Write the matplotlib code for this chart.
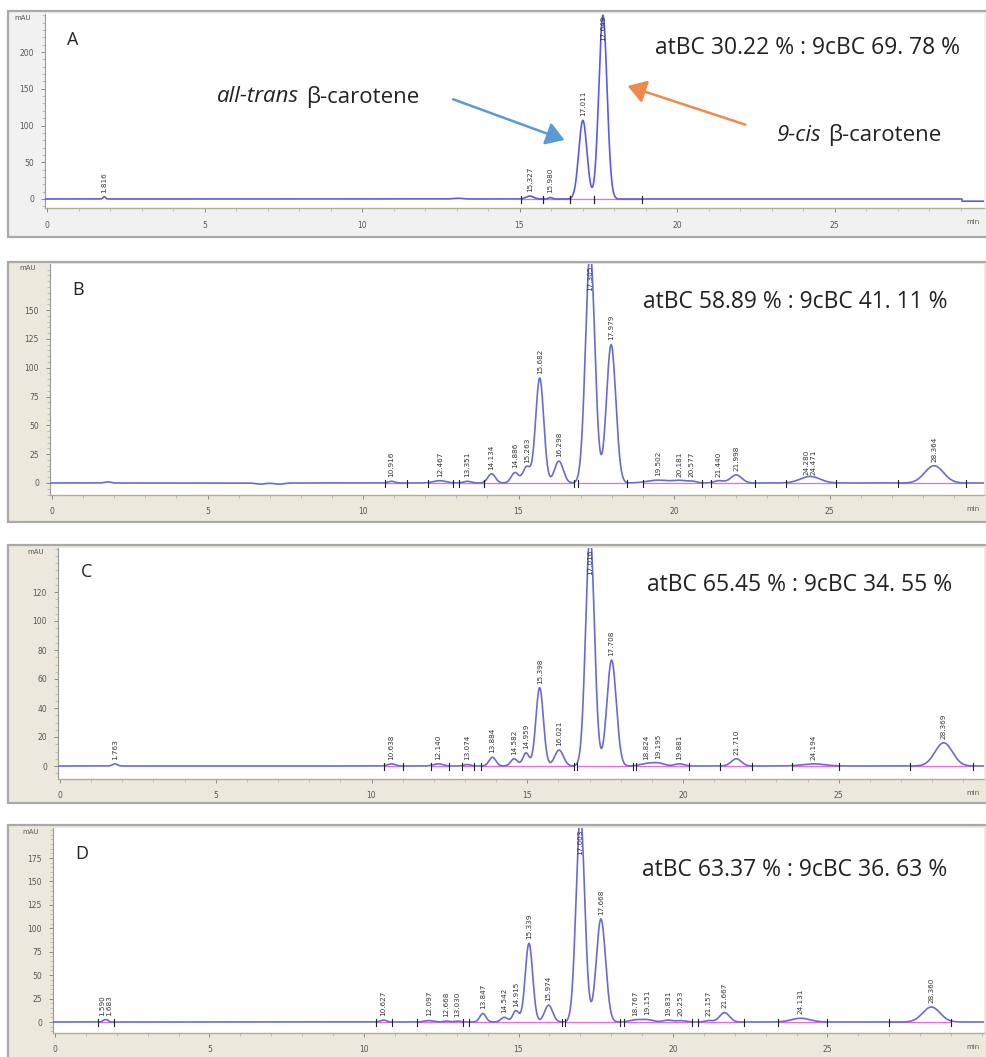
import numpy as np
import matplotlib.pyplot as plt
from matplotlib.patches import Rectangle, FancyArrowPatch
from matplotlib.ticker import MultipleLocator

W, H = 986, 1057

# ---------------- data ----------------
# retention time (min), peak height (mAU), peak width (sigma, min), printed label
a_rt = [1.816, 13.05, 15.327, 15.980, 17.011, 17.649]
a_height = [3, 1, 4, 2, 107, 250]
a_sigma = [0.04, 0.15, 0.12, 0.06, 0.13, 0.13]
a_label = ["1.816", "", "15.327", "15.980", "17.011", "17.649"]
a_windows = [(15.05, 15.75), (15.75, 16.6), (16.6, 17.35), (17.35, 18.9)]
a_ratio = "atBC 30.22 % : 9cBC 69. 78 %"

b_rt = [1.8, 6.7, 7.3, 10.916, 12.467, 13.351, 14.134, 14.886, 15.263, 15.682,
        16.298, 17.305, 17.979, 19.502, 20.181, 20.577, 21.440, 21.998, 24.280,
        24.471, 28.364]
b_height = [1, -1, -1, 1.5, 2, 1.5, 8, 9, 14, 91, 19, 200, 120, 2.5, 2, 1.5, 2,
            7, 3, 3, 15]
b_sigma = [0.1, 0.15, 0.15, 0.1, 0.2, 0.12, 0.12, 0.12, 0.12, 0.13, 0.14, 0.15,
           0.15, 0.35, 0.2, 0.15, 0.15, 0.18, 0.3, 0.3, 0.3]
b_label = ["", "", "", "10.916", "12.467", "13.351", "14.134", "14.886", "15.263",
           "15.682", "16.298", "17.305", "17.979", "19.502", "20.181", "20.577",
           "21.440", "21.998", "24.280", "24.471", "28.364"]
b_windows = [(10.7, 11.4), (12.1, 12.9), (13.1, 13.9), (13.9, 16.8), (16.9, 18.5),
             (19.0, 20.9), (21.2, 22.6), (23.6, 25.2), (27.2, 29.4)]
b_ratio = "atBC 58.89 % : 9cBC 41. 11 %"

c_rt = [1.763, 10.638, 12.140, 13.074, 13.884, 14.582, 14.959, 15.398, 16.021,
        17.016, 17.708, 18.824, 19.195, 19.881, 21.710, 24.194, 28.369]
c_height = [1.5, 1.5, 1.5, 1, 6, 5, 9, 54, 11, 160, 73, 1.5, 2, 1.5, 5, 1.5, 16]
c_sigma = [0.08, 0.12, 0.15, 0.1, 0.11, 0.11, 0.1, 0.12, 0.14, 0.14, 0.15, 0.2,
           0.2, 0.15, 0.16, 0.35, 0.28]
c_label = ["1.763", "10.638", "12.140", "13.074", "13.884", "14.582", "14.959",
           "15.398", "16.021", "17.016", "17.708", "18.824", "19.195", "19.881",
           "21.710", "24.194", "28.369"]
c_windows = [(10.4, 11.0), (11.9, 12.5), (12.9, 13.3), (13.5, 16.5), (16.6, 18.4),
             (18.5, 20.2), (21.2, 22.2), (23.5, 25.0), (27.3, 29.3)]
c_ratio = "atBC 65.45 % : 9cBC 34. 55 %"

d_rt = [1.590, 1.683, 10.627, 12.097, 12.668, 13.030, 13.847, 14.542, 14.915,
        15.339, 15.974, 17.003, 17.668, 18.767, 19.151, 19.831, 20.253, 21.157,
        21.667, 24.131, 28.360]
d_height = [2, 2, 2, 1.5, 1, 1, 9, 5, 12, 84, 18, 220, 110, 2, 2.5, 2, 1.5, 1.5,
            10, 4, 16]
d_sigma = [0.05, 0.05, 0.1, 0.15, 0.1, 0.1, 0.1, 0.11, 0.1, 0.12, 0.13, 0.14,
           0.15, 0.18, 0.2, 0.15, 0.15, 0.12, 0.16, 0.3, 0.28]
d_label = ["1.590", "1.683", "10.627", "12.097", "12.668", "13.030", "13.847",
           "14.542", "14.915", "15.339", "15.974", "17.003", "17.668", "18.767",
           "19.151", "19.831", "20.253", "21.157", "21.667", "24.131", "28.360"]
d_windows = [(1.4, 1.9), (10.4, 10.9), (11.7, 13.2), (13.4, 16.4), (16.5, 18.3),
             (18.4, 20.6), (20.8, 22.3), (23.4, 25.0), (27.0, 29.0)]
d_ratio = "atBC 63.37 % : 9cBC 36. 63 %"

a_yticks = [0, 50, 100, 150, 200]
b_yticks = [0, 25, 50, 75, 100, 125, 150]
c_yticks = [0, 20, 40, 60, 80, 100, 120]
d_yticks = [0, 25, 50, 75, 100, 125, 150, 175]
x_ticks = [0, 5, 10, 15, 20, 25]

TEXT_FONT = ["Open Sans", "Noto Sans", "DejaVu Sans"]


def fx(px):
    return px / W


def fy(py):
    return 1 - py / H


def draw_panel(fig, rt, height, sigma, labels, windows, yticks, ratio, letter,
               frame, plot, x0, sx, y0, sy, frame_color, trace_color, ymstep,
               ratio_xy, letter_xy, step=None):
    fl, ft, fb = frame
    fig.patches.append(Rectangle((fx(fl), fy(fb)), 1.2, (fb - ft) / H,
                                 transform=fig.transFigure, facecolor=frame_color,
                                 edgecolor="#a9a9a9", linewidth=1.6, zorder=-5))
    pl, pr, pt, pb = plot
    ax = fig.add_axes([fx(pl), fy(pb), (pr - pl) / W, (pb - pt) / H])
    ax.set_zorder(1)
    xmin, xmax = (pl - x0) / sx, (pr - x0) / sx
    ymin, ymax = (y0 - pb) / sy, (y0 - pt) / sy
    ax.set_xlim(xmin, xmax)
    ax.set_ylim(ymin, ymax)

    x = np.linspace(xmin, xmax, 6000)
    y = np.zeros_like(x)
    for t, h, s in zip(rt, height, sigma):
        y += h * np.exp(-0.5 * ((x - t) / s) ** 2)
    if step is not None:
        y[x > step[0]] += step[1]

    for a, b in windows:
        ax.plot([a, b], [0, 0], color="#e36ee3", lw=0.9, zorder=2)
        for e in (a, b):
            ax.plot([e, e], [-4 / sy, 3 / sy], color="#222222", lw=0.8, zorder=4)
    ax.plot(x, y, color=trace_color, lw=1.2, zorder=3)

    # peak labels, nudged apart sideways when two retention times nearly coincide
    shown = [(t, h, lab) for t, h, lab in zip(rt, height, labels) if lab]
    shifts = [0.0] * len(shown)
    for i in range(1, len(shown)):
        gap = (shown[i][0] - shown[i - 1][0]) * sx
        if gap < 7:
            shifts[i - 1] -= (7 - gap) / 2
            shifts[i] += (7 - gap) / 2
    for (t, h, lab), dx in zip(shown, shifts):
        dxp = dx * 0.72
        if (ymax - h) * sy < 42:
            ax.annotate(lab, (t, ymax), xytext=(dxp, -1), textcoords="offset points",
                        rotation=90, ha="center", va="top", fontsize=5.2,
                        color="#333333", zorder=5)
        else:
            ax.annotate(lab, (t, max(h, 0)), xytext=(dxp, 3), textcoords="offset points",
                        rotation=90, ha="center", va="bottom", fontsize=5.2,
                        color="#333333", zorder=5)

    ax.set_xticks(x_ticks)
    ax.set_yticks(yticks)
    ax.xaxis.set_minor_locator(MultipleLocator(1))
    ax.yaxis.set_minor_locator(MultipleLocator(ymstep))
    ax.tick_params(axis="both", which="major", labelsize=5.5, labelcolor="#555555",
                   color="#888888", length=3, width=0.7)
    ax.tick_params(axis="both", which="minor", color="#aaaaaa", length=2, width=0.5)
    ax.tick_params(axis="x", pad=6)
    ax.tick_params(axis="y", pad=5)
    for side in ("top", "right"):
        ax.spines[side].set_visible(False)
    ax.spines["left"].set_color("#999999")
    ax.spines["bottom"].set_color("#b0b098")
    ax.spines["left"].set_linewidth(0.8)
    ax.spines["bottom"].set_linewidth(1.0)
    ax.set_facecolor("white")

    fig.text(fx(pl - 22), fy(pt + 4), "mAU", fontsize=5, color="#555555",
             ha="center", va="center")
    fig.text(fx(W - 6), fy(pb + 14), "min", fontsize=5, color="#555555",
             ha="right", va="center")
    fig.text(fx(ratio_xy[0]), fy(ratio_xy[1]), ratio, fontsize=16.5,
             family=TEXT_FONT, color="#222222", ha="left", va="center", zorder=6)
    fig.text(fx(letter_xy[0]), fy(letter_xy[1]), letter, fontsize=13,
             family=TEXT_FONT, color="#222222", ha="left", va="center", zorder=6)
    return ax


fig = plt.figure(figsize=(W / 100, H / 100), dpi=100)
fig.patch.set_facecolor("white")

ax_a = draw_panel(fig, a_rt, a_height, a_sigma, a_label, a_windows, a_yticks,
                  a_ratio, "A", (8, 11, 237), (45, 984, 14, 208), 47, 31.5, 199,
                  0.735, "#f1f1f1", "#5a5ae8", 10, (655, 48), (67, 40),
                  step=(29.05, -3))
draw_panel(fig, b_rt, b_height, b_sigma, b_label, b_windows, b_yticks, b_ratio,
           "B", (8, 262, 522), (50, 984, 264, 495), 52, 31.1, 483, 1.153,
           "#ece9dc", "#6b6bcf", 5, (643, 302), (72, 290))
draw_panel(fig, c_rt, c_height, c_sigma, c_label, c_windows, c_yticks, c_ratio,
           "C", (8, 545, 803), (58, 984, 548, 779), 60, 31.15, 766, 1.45,
           "#ece9dc", "#6b6bcf", 5, (647, 585), (81, 572))
draw_panel(fig, d_rt, d_height, d_sigma, d_label, d_windows, d_yticks, d_ratio,
           "D", (8, 825, 1060), (53, 984, 828, 1033), 55, 30.9, 1022, 0.937,
           "#ece9dc", "#6b6bcf", 5, (642, 870), (75, 854))

# annotations of panel A (data coordinates of that panel)
at_time, cis_time = a_rt[4], a_rt[5]
ax_a.text(at_time - 9.0, 139, "all-trans", style="italic", fontsize=16,
          family=TEXT_FONT, color="#222222", ha="right", va="center")
ax_a.text(at_time - 8.8, 139, "β-carotene", fontsize=16, family=TEXT_FONT,
          color="#222222", ha="left", va="center")
ax_a.text(cis_time + 6.95, 87, "9-cis", style="italic", fontsize=16,
          family=TEXT_FONT, color="#222222", ha="right", va="center")
ax_a.text(cis_time + 7.15, 87, "β-carotene", fontsize=16, family=TEXT_FONT,
          color="#222222", ha="left", va="center")
ax_a.add_patch(FancyArrowPatch((at_time - 4.2, 137), (at_time - 0.5, 79),
                               arrowstyle="-|>,head_length=11,head_width=7",
                               color="#5b9bd5", lw=1.8, zorder=6))
ax_a.add_patch(FancyArrowPatch((cis_time + 4.6, 100), (cis_time + 0.7, 155),
                               arrowstyle="-|>,head_length=11,head_width=7",
                               color="#f08a4b", lw=1.8, zorder=6))

fig.savefig("out.png", dpi=100)
